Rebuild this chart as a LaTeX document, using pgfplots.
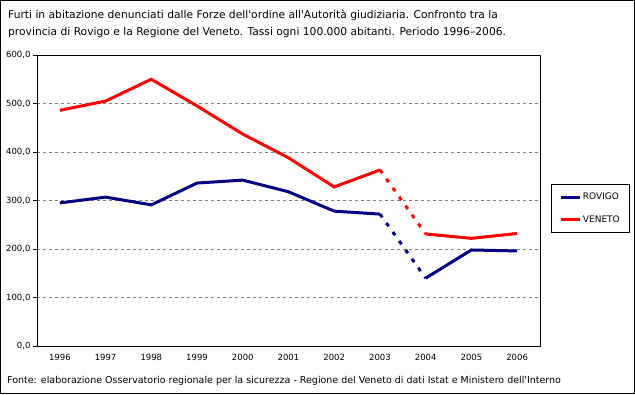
\documentclass[border=0pt]{standalone}
\usepackage{fontspec}
\setmainfont{DejaVu Sans}
\usepackage{pgfplots}
\pgfplotsset{compat=1.18}
\definecolor{rov}{RGB}{0,0,128}
\definecolor{ven}{RGB}{255,0,0}
\begin{document}
\begin{tikzpicture}
\path[use as bounding box] (0pt,0pt) rectangle (635pt,-394pt);
\draw[black, line width=1pt] (0.5pt,-0.5pt) rectangle (634.5pt,-393.5pt);
\node[anchor=base west, inner sep=0pt, font=\fontsize{10.7}{12}\selectfont] at (8pt,-18pt) {Furti in abitazione denunciati dalle Forze dell\textquotesingle ordine all\textquotesingle Autorità giudiziaria. Confronto tra la};
\node[anchor=base west, inner sep=0pt, font=\fontsize{10.7}{12}\selectfont] at (8pt,-35pt) {provincia di Rovigo e la Regione del Veneto. Tassi ogni 100.000 abitanti. Periodo 1996–2006.};
\node[anchor=base west, inner sep=0pt, font=\fontsize{9.5}{10}\selectfont] at (7pt,-383pt) {Fonte: elaborazione Osservatorio regionale per la sicurezza - Regione del Veneto di dati Istat e Ministero dell\textquotesingle Interno};
\begin{axis}[
  at={(37pt,-346pt)}, anchor=south west,
  scale only axis, width=503pt, height=291pt,
  xmin=-0.5, xmax=10.5, ymin=0, ymax=600,
  axis line style={black, line width=0.8pt},
  xtick={0,...,10},
  xticklabels={1996,1997,1998,1999,2000,2001,2002,2003,2004,2005,2006},
  major x tick style={draw=none},
  extra x ticks={-0.5,0.5,1.5,2.5,3.5,4.5,5.5,6.5,7.5,8.5,9.5,10.5},
  extra x tick labels={},
  extra x tick style={tick style={black, line width=0.8pt}, major tick length=5pt, grid=none},
  ytick={0,100,...,600},
  ymajorgrids,
  grid style={gray, dashed, line width=0.6pt},
  tick align=outside,
  major tick length=4pt,
  tick style={black, line width=0.8pt},
  xtick pos=bottom, ytick pos=left,
  ticklabel style={font=\fontsize{8.5}{9}\selectfont},
  xticklabel style={yshift=-1pt},
  /pgf/number format/.cd, fixed, fixed zerofill, precision=1, use comma, 1000 sep={},
  /pgfplots/.cd,
  yticklabel style={/pgf/number format/assume math mode=true, xshift=1pt},
  legend cell align=left,
  legend style={at={(rel axis cs:1.021,0.557)}, anchor=north west, draw=black, line width=0.8pt, font=\fontsize{9}{10}\selectfont, inner xsep=9pt, inner ysep=7pt, row sep=10pt, nodes={inner xsep=1pt}},
  legend image code/.code={\draw[#1, line width=3pt] (0pt,0pt) -- (19pt,0pt);},
]
\addplot[rov, line width=3pt] coordinates {(0,295) (1,307) (2,291) (3,336) (4,342) (5,318) (6,278) (7,272)};
\addlegendentry{ROVIGO}
\addplot[ven, line width=3pt] coordinates {(0,486) (1,505) (2,550) (3,495) (4,437) (5,388) (6,328) (7,363)};
\addlegendentry{VENETO}
\addplot[rov, line width=3pt, forget plot] coordinates {(8,140) (9,198) (10,196)};
\addplot[ven, line width=3pt, forget plot] coordinates {(8,231) (9,222) (10,232)};
\addplot[rov, line width=3pt, dash pattern=on 4pt off 7pt, forget plot] coordinates {(7,272) (8,140)};
\addplot[ven, line width=3pt, dash pattern=on 4pt off 7pt, forget plot] coordinates {(7,363) (8,231)};
\end{axis}
\end{tikzpicture}
\end{document}
